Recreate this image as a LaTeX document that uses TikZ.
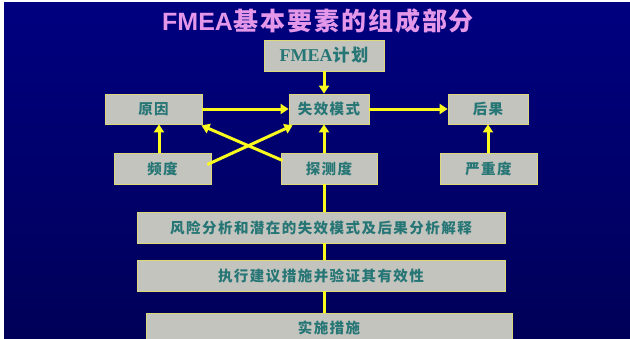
\documentclass[tikz,border=0pt]{standalone}
\usepackage{fontspec}
\usetikzlibrary{arrows.meta,calc}
\newfontfamily\cjk{Noto Sans CJK SC}[LetterSpace=10]
\newfontfamily\cjktitle{Noto Sans CJK SC}[LetterSpace=8]
\newfontfamily\latserif{Liberation Serif}
\newfontfamily\latsans{Liberation Sans}
\definecolor{bgtop}{RGB}{0,0,128}
\definecolor{bgbot}{RGB}{0,0,88}
\definecolor{boxgray}{RGB}{196,196,190}
\definecolor{boxedge}{RGB}{220,215,120}
\definecolor{tealtxt}{RGB}{38,118,118}
\definecolor{titlepink}{RGB}{228,150,232}
\definecolor{arrowyellow}{RGB}{250,250,30}
\tikzset{
  box/.style={rectangle, fill=boxgray, draw=boxedge, line width=0.8pt, inner sep=0pt,
    text=tealtxt, font=\cjk\bfseries\fontsize{14.5}{16}\selectfont},
  conn/.style={draw=arrowyellow, line width=3pt},
  arr/.style={conn, -{Triangle[length=8pt,width=10pt]}},
}
\begin{document}
\begin{tikzpicture}[x=1pt,y=-1pt]
\useasboundingbox (0,0) rectangle (630,338);
\fill[white] (0,0) rectangle (630,338);
\shade[top color=bgtop, bottom color=bgbot] (4,2) rectangle (630,338);
\begin{scope}
\clip (0,0) rectangle (630,338);
\node[text=titlepink, font=\bfseries\fontsize{25}{27}\selectfont, anchor=west, inner sep=0pt] (title) at (162,21) {{\latsans FMEA}{\cjktitle 基本要素的组成部分}};
\node[box, minimum width=120, minimum height=31, font=\cjk\bfseries\fontsize{17}{18}\selectfont] (fmea) at (324,55.5) {{\latserif\fontsize{18}{18}\selectfont FMEA}计划};
\node[box, minimum width=97, minimum height=30] (yuanyin) at (153.5,109) {原因};
\node[box, minimum width=80, minimum height=30] (shixiao) at (329,109) {失效模式};
\node[box, minimum width=80, minimum height=30] (houguo) at (488,109) {后果};
\node[box, minimum width=97, minimum height=31] (pindu) at (162.5,168.5) {频度};
\node[box, minimum width=96, minimum height=31] (tance) at (329,168.5) {探测度};
\node[box, minimum width=97, minimum height=31] (yanzhong) at (488.5,168.5) {严重度};
\node[box, minimum width=368, minimum height=31] (fengxian) at (321,227.5) {风险分析和潜在的失效模式及后果分析解释};
\node[box, minimum width=368, minimum height=31] (zhixing) at (321,275.5) {执行建议措施并验证其有效性};
\node[box, minimum width=366, minimum height=30, text depth=0pt] (shishi) at (329,328) {\raisebox{1.5pt}{实施措施}};
% connectors
\draw[arr] (fmea.south) -- (fmea.south |- shixiao.north);
\draw[arr] (yuanyin.east) -- (shixiao.west);
\draw[arr] (shixiao.east) -- (houguo.west);
\draw[arr] (pindu.north -| 159,0) -- (yuanyin.south -| 159,0);
\draw[arr] (tance.north -| fmea) -- (shixiao.south -| fmea);
\draw[arr] (yanzhong.north -| houguo) -- (houguo.south);
\coordinate (p1) at ($(pindu.east)+(-4,-4)$);
\coordinate (p2) at ($(shixiao.south west)+(4,1)$);
\coordinate (t1) at ($(tance.west)+(2,-8)$);
\coordinate (t2) at ($(yuanyin.south east)+(-1,1)$);
\draw[arr] (p1) -- (p2);
\draw[arr] (t1) -- (t2);
\draw[conn] (tance.south -| fmea) -- (fengxian.north -| fmea);
\draw[conn] (fengxian.south -| fmea) -- (zhixing.north -| fmea);
\draw[conn] (zhixing.south -| fmea) -- (shishi.north -| fmea);
\end{scope}
\end{tikzpicture}
\end{document}
